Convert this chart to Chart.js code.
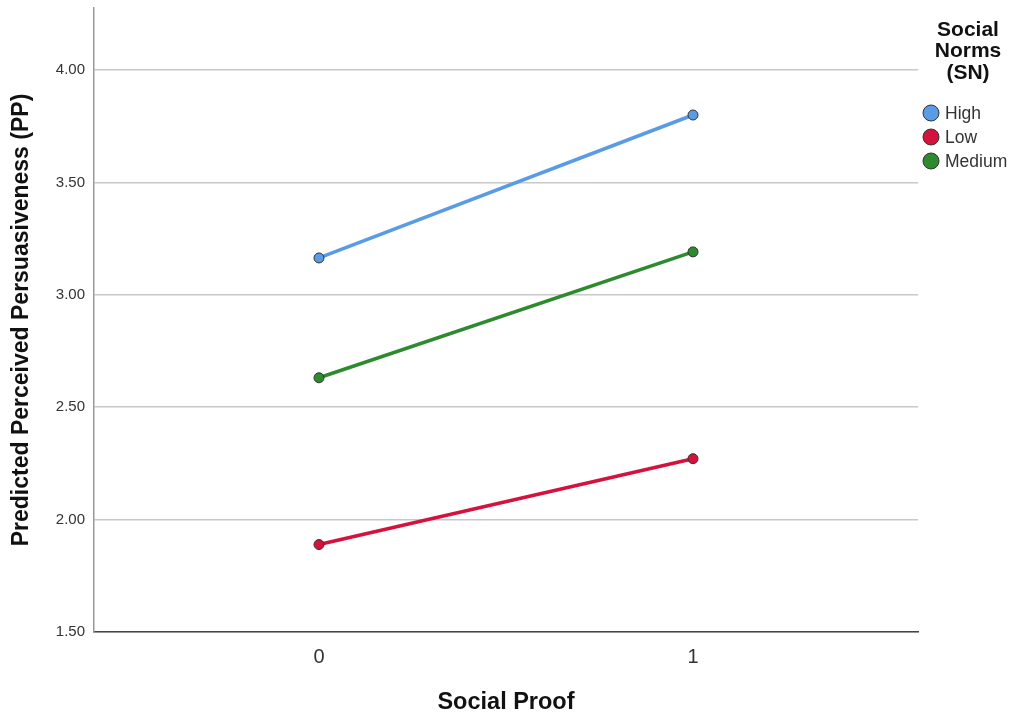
<!DOCTYPE html>
<html>
<head>
<meta charset="utf-8">
<script src="https://cdn.jsdelivr.net/npm/chart.js@4/dist/chart.umd.min.js"></script>
<style>
  html, body { margin: 0; padding: 0; background: #ffffff; }
  #wrap { width: 1017px; height: 719px; position: relative; }
</style>
</head>
<body>
<div id="wrap"><canvas id="c" width="1017" height="719"></canvas></div>
<script>
// ---- Data ----
const xCategories = [0, 1];
const xTickLabels = ["0", "1"];
const yTicks = [1.5, 2.0, 2.5, 3.0, 3.5, 4.0];
const seriesNames = ["High", "Low", "Medium"];
const highValues = [3.164, 3.80];
const lowValues = [1.889, 2.271];
const mediumValues = [2.631, 3.191];
const seriesColors = ["#5a9be6", "#d3133d", "#2e8a2e"];
const legendTitle = ["Social", "Norms", "(SN)"];
const xTitle = "Social Proof";
const yTitle = "Predicted Perceived Persuasiveness (PP)";

const FONT = "'Liberation Sans', Arial, sans-serif";

function makeSet(name, values, color) {
  return {
    label: name,
    data: xCategories.map((x, i) => ({ x: x, y: values[i] })),
    borderColor: color,
    backgroundColor: color,
    borderWidth: 3.5,
    pointRadius: 5,
    pointHoverRadius: 5,
    pointBackgroundColor: color,
    pointBorderColor: "#333333",
    pointBorderWidth: 1,
    tension: 0
  };
}

const datasets = [
  makeSet(seriesNames[0], highValues, seriesColors[0]),
  makeSet(seriesNames[1], lowValues, seriesColors[1]),
  makeSet(seriesNames[2], mediumValues, seriesColors[2])
];

const customLegend = {
  id: "customLegend",
  afterDraw(chart) {
    const ctx = chart.ctx;
    ctx.save();
    ctx.fillStyle = "#111111";
    ctx.font = "bold 21px " + FONT;
    ctx.textAlign = "center";
    ctx.textBaseline = "middle";
    legendTitle.forEach((t, i) => ctx.fillText(t, 968, 30 + i * 21.5));
    ctx.font = "17.5px " + FONT;
    ctx.textAlign = "left";
    chart.data.datasets.forEach((ds, i) => {
      const cy = 113 + i * 24;
      ctx.beginPath();
      ctx.arc(931, cy, 8, 0, Math.PI * 2);
      ctx.fillStyle = ds.borderColor;
      ctx.fill();
      ctx.lineWidth = 1;
      ctx.strokeStyle = "#333333";
      ctx.stroke();
      ctx.fillStyle = "#333333";
      ctx.fillText(ds.label, 945, cy + 1);
    });
    ctx.restore();
  }
};

new Chart(document.getElementById("c"), {
  type: "line",
  data: { datasets: datasets },
  plugins: [customLegend],
  options: {
    responsive: false,
    animation: false,
    layout: { padding: { top: 8, right: 99, left: 0, bottom: 0 } },
    plugins: {
      legend: { display: false },
      tooltip: { enabled: false },
      title: { display: false }
    },
    scales: {
      x: {
        type: "linear",
        min: -0.6016,
        max: 1.6016,
        afterBuildTicks(scale) { scale.ticks = xCategories.map(v => ({ value: v })); },
        afterFit(scale) { scale.height = 87; scale.paddingLeft = 0; scale.paddingRight = 0; },
        ticks: {
          callback: (v) => { const i = xCategories.indexOf(v); return i >= 0 ? xTickLabels[i] : ""; },
          color: "#333333",
          font: { family: FONT, size: 20 },
          padding: 13,
          maxRotation: 0
        },
        grid: { display: false, drawTicks: false },
        border: { display: true, color: "#444444", width: 1.5 },
        title: {
          display: true,
          text: xTitle,
          color: "#111111",
          font: { family: FONT, size: 23.5, weight: "bold" },
          padding: { top: 0, bottom: 2 }
        }
      },
      y: {
        type: "linear",
        min: 1.5,
        max: 4.276,
        afterBuildTicks(scale) { scale.ticks = yTicks.map(v => ({ value: v })); },
        afterFit(scale) { scale.width = 94; scale.paddingTop = 0; scale.paddingBottom = 0; },
        ticks: {
          callback: (v) => Number(v).toFixed(2),
          color: "#333333",
          font: { family: FONT, size: 15 },
          padding: 9
        },
        grid: { display: true, drawTicks: false, color: "#c8c8c8", lineWidth: 1.5 },
        border: { display: true, color: "#999999", width: 1.5 },
        title: {
          display: true,
          text: yTitle,
          color: "#111111",
          font: { family: FONT, size: 23, weight: "bold" },
          padding: { top: 8, bottom: 0 }
        }
      }
    }
  }
});
</script>
</body>
</html>
